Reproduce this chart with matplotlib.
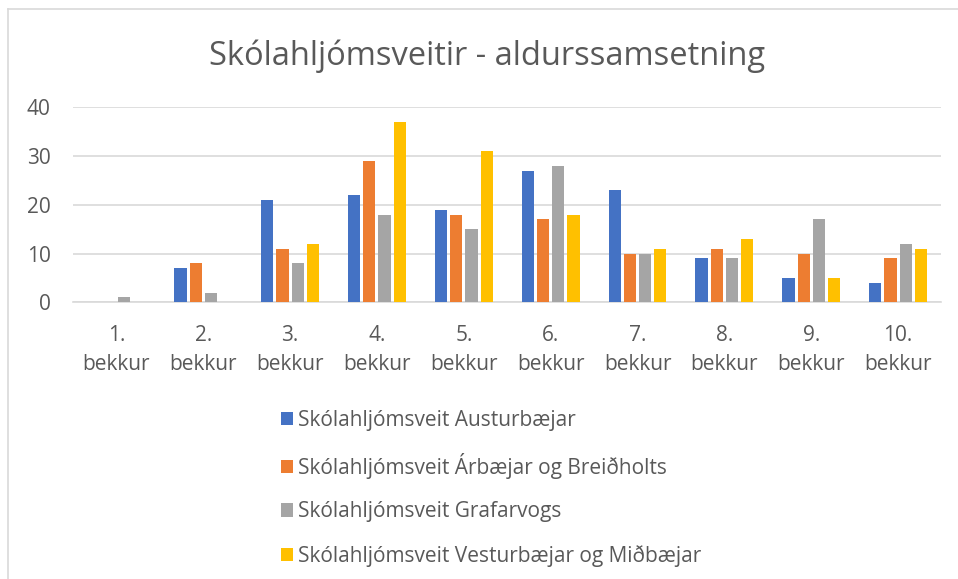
import numpy as np
import matplotlib
matplotlib.use("Agg")
import matplotlib.pyplot as plt
from matplotlib.lines import Line2D

plt.rcParams['font.family'] = ['Open Sans', 'DejaVu Sans']

# ---- Gögn ----
bekkir = ["1.\nbekkur", "2.\nbekkur", "3.\nbekkur", "4.\nbekkur", "5.\nbekkur",
          "6.\nbekkur", "7.\nbekkur", "8.\nbekkur", "9.\nbekkur", "10.\nbekkur"]
austurbaejar = [0, 7, 21, 22, 19, 27, 23, 9, 5, 4]
arbaejar_breidholts = [0, 8, 11, 29, 18, 17, 10, 11, 10, 9]
grafarvogs = [1, 2, 8, 18, 15, 28, 10, 9, 17, 12]
vesturbaejar_midbaejar = [0, 0, 12, 37, 31, 18, 11, 13, 5, 11]

series = [
    ("Skólahljómsveit Austurbæjar", austurbaejar, "#4472C4"),
    ("Skólahljómsveit Árbæjar og Breiðholts", arbaejar_breidholts, "#ED7D31"),
    ("Skólahljómsveit Grafarvogs", grafarvogs, "#A5A5A5"),
    ("Skólahljómsveit Vesturbæjar og Miðbæjar", vesturbaejar_midbaejar, "#FFC000"),
]

txt = "#595959"
grid = "#D9D9D9"

fig = plt.figure(figsize=(9.58, 5.79), dpi=100)
ax = fig.add_axes([73 / 958, 1 - 302.3 / 579, 868.5 / 958, 195 / 579])

x = np.arange(len(bekkir))
slot = 0.175
handles = []
for i, (name, vals, col) in enumerate(series):
    b = ax.bar(x + (i - 1.5) * slot, vals, width=0.14, color=col, label=name, zorder=3)
    handles.append(b)

ax.set_xlim(-0.5, len(bekkir) - 0.5)
ax.set_ylim(0, 40)
ax.set_yticks([0, 10, 20, 30, 40])
ax.set_xticks(x)
ax.set_xticklabels(bekkir, linespacing=1.55)
ax.yaxis.grid(True, color=grid, linewidth=1.2, zorder=0)
for s in ["top", "right", "left"]:
    ax.spines[s].set_visible(False)
ax.spines["bottom"].set_color(grid)
ax.spines["bottom"].set_linewidth(1.2)
ax.tick_params(axis="both", length=0, labelsize=15, labelcolor=txt)
ax.tick_params(axis="y", pad=16)
ax.tick_params(axis="x", pad=16)

fig.text(0.508, 1 - 56 / 579, "Skólahljómsveitir - aldurssamsetning",
         ha="center", va="center", fontsize=23.5, color=txt)

fig.legend(handles=handles, loc="upper left", bbox_to_anchor=(262 / 958, 1 - 391 / 579),
           frameon=False, fontsize=15, labelcolor=txt, handlelength=0.6,
           handleheight=0.6, handletextpad=0.25, labelspacing=1.07)

# rammi utan um myndina (vinstri og efri brún)
fig.add_artist(Line2D([8 / 958, 8 / 958], [0, 1 - 9 / 579], transform=fig.transFigure,
                      color=grid, linewidth=1.2))
fig.add_artist(Line2D([8 / 958, 1], [1 - 9 / 579, 1 - 9 / 579], transform=fig.transFigure,
                      color=grid, linewidth=1.2))

fig.savefig("out.png", dpi=100, facecolor="white")
